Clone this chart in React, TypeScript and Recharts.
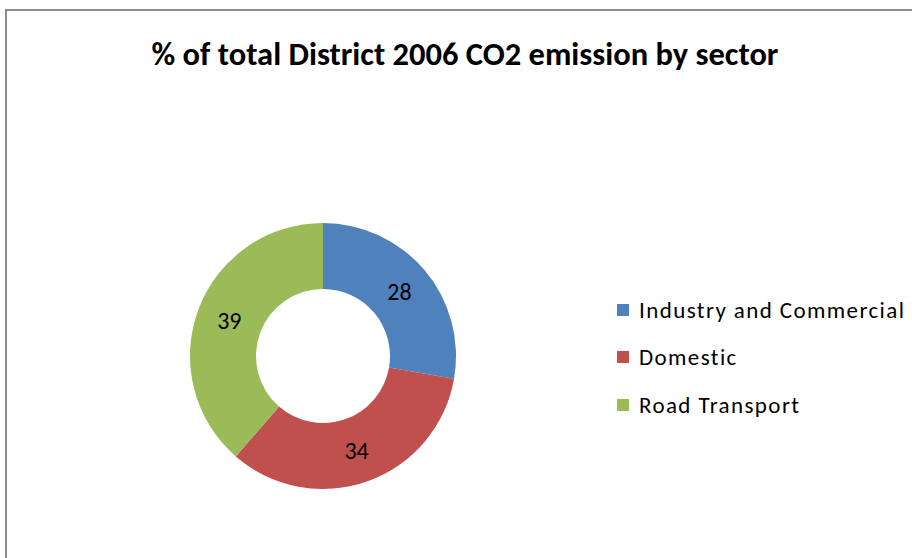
import { PieChart, Pie, Cell, Legend } from "recharts"

const sectors = ["Industry and Commercial", "Domestic", "Road Transport"]
const shares = [28, 34, 39]
const colors = ["#4F81BD", "#C0504D", "#9BBB59"]

const data = sectors.map((name, i) => ({ name, value: shares[i] }))

const FONT = "Calibri, Carlito, Lato, 'Noto Sans', sans-serif"
const RADIAN = Math.PI / 180

const renderLabel = ({ cx, cy, midAngle, innerRadius, outerRadius, value }: any) => {
  const r = (innerRadius + outerRadius) / 2
  const x = cx + r * Math.cos(-midAngle * RADIAN)
  const y = cy + r * Math.sin(-midAngle * RADIAN)
  return (
    <text x={x} y={y} fill="#000" textAnchor="middle" dominantBaseline="central" fontSize={24} fontFamily={FONT}>
      {value}
    </text>
  )
}

const renderLegend = () => (
  <div style={{ fontFamily: FONT, fontSize: 23, letterSpacing: 1.4, color: "#000" }}>
    {sectors.map((name, i) => (
      <div key={name} style={{ display: "flex", alignItems: "center", height: 47.5 }}>
        <span style={{ width: 12, height: 12, background: colors[i], marginRight: 10, display: "inline-block" }} />
        <span style={{ whiteSpace: "nowrap" }}>{name}</span>
      </div>
    ))}
  </div>
)

export default function App() {
  return (
    <div style={{ position: "absolute", left: 0, top: 0, width: 912, height: 558, overflow: "hidden", background: "#fff" }}>
      <div
        style={{
          position: "absolute",
          left: 5,
          top: 9,
          width: 930,
          height: 580,
          border: "2px solid #8c8c8c",
        }}
      />
      <div
        style={{
          position: "absolute",
          left: 0,
          top: 34,
          width: 930,
          textAlign: "center",
          fontFamily: FONT,
          fontWeight: "bold",
          fontSize: 32.5,
          color: "#000",
        }}
      >
        % of total District 2006 CO2 emission by sector
      </div>
      <div style={{ position: "absolute", left: 0, top: 0 }}>
        <PieChart width={912} height={558} margin={{ top: 0, right: 0, bottom: 0, left: 0 }}>
          <Pie
            data={data}
            dataKey="value"
            nameKey="name"
            cx={323}
            cy={356}
            innerRadius={67}
            outerRadius={133}
            startAngle={90}
            endAngle={-270}
            stroke="none"
            label={renderLabel}
            labelLine={false}
            isAnimationActive={false}
          >
            {data.map((d, i) => (
              <Cell key={d.name} fill={colors[i]} />
            ))}
          </Pie>
          <Legend
            layout="vertical"
            content={renderLegend}
            wrapperStyle={{ left: 617, top: 286, width: 300 }}
          />
        </PieChart>
      </div>
    </div>
  )
}
